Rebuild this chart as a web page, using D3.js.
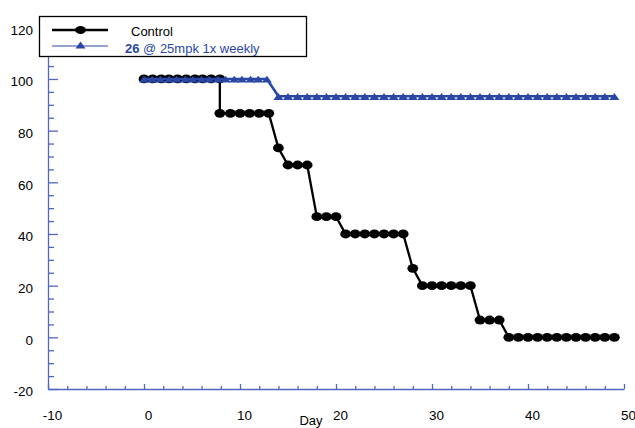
<!DOCTYPE html>
<html>
<head>
<meta charset="utf-8">
<script src="https://cdn.jsdelivr.net/npm/d3@7"></script>
<style>
  body { margin: 0; background: #fff; }
  text { font-family: "Liberation Sans", Arial, sans-serif; }
</style>
</head>
<body>
<div id="chart"></div>
<script>
// Data (percent surviving per day)
var controlDays = [0, 0.9, 1.8, 2.6, 3.5, 4.4, 5.3, 6.1, 7.0, 7.9,
  7.9, 9, 10, 11, 12, 13,
  14,
  15, 16, 17,
  18, 19, 20,
  21, 22, 23, 24, 25, 26, 27,
  28,
  29, 30, 31, 32, 33, 34,
  35, 36, 37,
  38, 39, 40, 41, 42, 43, 44, 45, 46, 47, 48, 49];
var controlValues = [100, 100, 100, 100, 100, 100, 100, 100, 100, 100,
  86.7, 86.7, 86.7, 86.7, 86.7, 86.7,
  73.3,
  66.7, 66.7, 66.7,
  46.7, 46.7, 46.7,
  40, 40, 40, 40, 40, 40, 40,
  26.7,
  20, 20, 20, 20, 20, 20,
  6.7, 6.7, 6.7,
  0, 0, 0, 0, 0, 0, 0, 0, 0, 0, 0, 0];

var treatedDays = [0, 0.85, 1.7, 2.6, 3.4, 4.3, 5.1, 6.0, 6.8, 7.7, 8.5, 9.4, 10.2, 11.1, 11.9, 12.8,
  14, 15, 16, 17, 18, 19, 20, 21, 22, 23, 24, 25, 26, 27, 28, 29, 30, 31,
  32, 33, 34, 35, 36, 37, 38, 39, 40, 41, 42, 43, 44, 45, 46, 47, 48, 49];
var treatedValues = [100, 100, 100, 100, 100, 100, 100, 100, 100, 100, 100, 100, 100, 100, 100, 100,
  93.3, 93.3, 93.3, 93.3, 93.3, 93.3, 93.3, 93.3, 93.3, 93.3, 93.3, 93.3, 93.3, 93.3, 93.3, 93.3, 93.3, 93.3,
  93.3, 93.3, 93.3, 93.3, 93.3, 93.3, 93.3, 93.3, 93.3, 93.3, 93.3, 93.3, 93.3, 93.3, 93.3, 93.3, 93.3, 93.3];

var xTicks = [-10, 0, 10, 20, 30, 40, 50];
var yTicks = [-20, 0, 20, 40, 60, 80, 100, 120];
var legendLabels = ["Control", "26 @ 25mpk 1x weekly"];

var svgWidth = 635;
var svgHeight = 428;

var axisColor = "#5066c0";
var blue = "#2b47a6";

var svg = d3.select("#chart")
  .append("svg")
  .attr("width", svgWidth)
  .attr("height", svgHeight);

var xScale = d3.scaleLinear().domain([-10, 50]).range([48, 624]);
var yScale = d3.scaleLinear().domain([-20, 120]).range([389, 27.3]);

// x axis, ticks pointing up into the plot
var xAxis = d3.axisBottom(xScale)
  .tickValues(xTicks)
  .tickFormat(d => String(d))
  .tickSizeInner(-5)
  .tickSizeOuter(0)
  .tickPadding(21);

var xMinor = d3.axisBottom(xScale)
  .tickValues(d3.range(-10, 51, 2).filter(d => d % 10 !== 0))
  .tickSizeInner(-3)
  .tickSizeOuter(0)
  .tickFormat("");

var gx = svg.append("g")
  .attr("transform", `translate(0, ${yScale(-20)})`)
  .call(xAxis);
svg.append("g")
  .attr("transform", `translate(0, ${yScale(-20)})`)
  .call(xMinor)
  .select(".domain").remove();

// y axis, ticks pointing right
var yAxis = d3.axisLeft(yScale)
  .tickValues(yTicks)
  .tickFormat(d => String(d))
  .tickSizeInner(-10)
  .tickSizeOuter(0)
  .tickPadding(15);

var yMinor = d3.axisLeft(yScale)
  .tickValues(d3.range(-20, 121, 5).filter(d => d % 20 !== 0))
  .tickSizeInner(-6)
  .tickSizeOuter(0)
  .tickFormat("");

var gy = svg.append("g")
  .attr("transform", `translate(${xScale(-10)}, 0)`)
  .call(yAxis);
svg.append("g")
  .attr("transform", `translate(${xScale(-10)}, 0)`)
  .call(yMinor)
  .select(".domain").remove();

svg.selectAll(".domain, .tick line")
  .attr("stroke", axisColor)
  .attr("stroke-width", 1.3);

gx.selectAll("text")
  .attr("dx", "0.3em")
  .style("font-size", "13.5px")
  .attr("fill", "#000");
gy.selectAll("text")
  .attr("dy", "0.5em")
  .style("font-size", "13.5px")
  .attr("fill", "#000");

// axis title at the bottom edge
svg.append("text")
  .attr("x", 311)
  .attr("y", 424.5)
  .attr("text-anchor", "middle")
  .style("font-size", "13px")
  .text("Day");

// lines
var control = controlDays.map((d, i) => ({ x: d, y: controlValues[i] }));
var treated = treatedDays.map((d, i) => ({ x: d, y: treatedValues[i] }));

var line = d3.line()
  .x(d => xScale(d.x))
  .y(d => yScale(d.y));

svg.append("path")
  .datum(control)
  .attr("fill", "none")
  .attr("stroke", "#000")
  .attr("stroke-width", 2.3)
  .attr("d", line);

svg.selectAll("ellipse.ctrl")
  .data(control)
  .enter()
  .append("ellipse")
  .attr("class", "ctrl")
  .attr("cx", d => xScale(d.x))
  .attr("cy", d => yScale(d.y))
  .attr("rx", 5.4)
  .attr("ry", 4.4)
  .attr("fill", "#000");

var triangle = "M0,-3.2L5,3.6L-5,3.6Z";

svg.append("path")
  .datum(treated)
  .attr("fill", "none")
  .attr("stroke", blue)
  .attr("stroke-width", 2.6)
  .attr("d", line);

svg.selectAll("path.tri")
  .data(treated)
  .enter()
  .append("path")
  .attr("class", "tri")
  .attr("d", triangle)
  .attr("transform", d => `translate(${xScale(d.x)}, ${yScale(d.y)})`)
  .attr("fill", blue);

// legend
var legend = svg.append("g");
legend.append("rect")
  .attr("x", 39.5)
  .attr("y", 16.5)
  .attr("width", 267)
  .attr("height", 40)
  .attr("fill", "#fff")
  .attr("stroke", "#000")
  .attr("stroke-width", 1.3);

legend.append("line")
  .attr("x1", 52).attr("x2", 108)
  .attr("y1", 30).attr("y2", 30)
  .attr("stroke", "#000")
  .attr("stroke-width", 2.3);
legend.append("ellipse")
  .attr("cx", 80.5).attr("cy", 30)
  .attr("rx", 5.4).attr("ry", 4)
  .attr("fill", "#000");
legend.append("text")
  .attr("x", 131)
  .attr("y", 36)
  .style("font-size", "13px")
  .text(legendLabels[0]);

legend.append("line")
  .attr("x1", 52).attr("x2", 108)
  .attr("y1", 46).attr("y2", 46)
  .attr("stroke", blue)
  .attr("stroke-width", 1);
legend.append("path")
  .attr("d", "M0,-4L5,3L-5,3Z")
  .attr("transform", "translate(80.5, 45.5)")
  .attr("fill", blue);

var parts = legendLabels[1].split(" ");
var t2 = legend.append("text")
  .attr("x", 125)
  .attr("y", 53)
  .style("font-size", "13px")
  .attr("fill", blue);
t2.append("tspan").style("font-weight", "bold").text(parts[0]);
t2.append("tspan").text(" " + parts.slice(1).join(" "));
</script>
</body>
</html>
